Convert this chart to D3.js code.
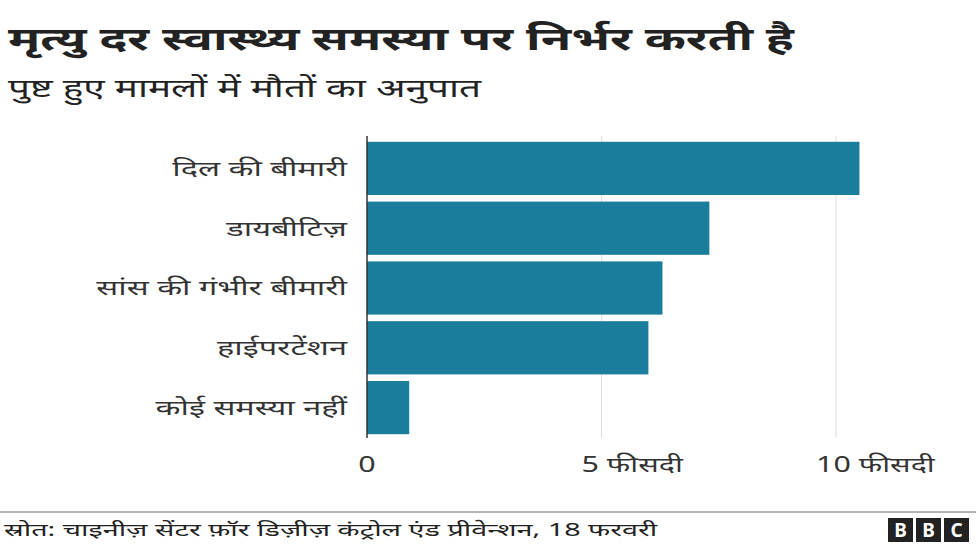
<!DOCTYPE html>
<html><head><meta charset="utf-8">
<script src="https://cdn.jsdelivr.net/npm/d3@7"></script>
<style>body{margin:0;background:#fff}text{font-family:"Noto Sans","DejaVu Sans",sans-serif}</style>
</head><body>
<svg id="c" width="976" height="549"></svg>
<script>
const categories = ['दिल की बीमारी', 'डायबीटिज़', 'सांस की गंभीर बीमारी', 'हाईपरटेंशन', 'कोई समस्या नहीं'];
const values = [10.5, 7.3, 6.3, 6.0, 0.9];
const ticks = [0, 5, 10];
const tickLabels = ['0', '5 फीसदी', '10 फीसदी'];

const svg = d3.select('#c');
const x = d3.scaleLinear().domain([0, 10]).range([367, 836]);
const y = d3.scaleBand().domain(categories).range([140, 436]).paddingInner(0.11).paddingOuter(0.03);

// the reference font is much wider than Noto Sans Devanagari, so stretch horizontally
function stretch(sel, k) {
  sel.each(function () {
    const ax = +this.getAttribute('x');
    this.setAttribute('transform', `translate(${ax},0) scale(${k},1) translate(${-ax},0)`);
  });
}

stretch(svg.append('text').attr('x', 8).attr('y', 50).attr('font-size', 32).attr('font-weight', 'bold')
  .attr('fill', '#222').text('मृत्यु दर स्वास्थ्य समस्या पर निर्भर करती है'), 1.55);
stretch(svg.append('text').attr('x', 8).attr('y', 97).attr('font-size', 25)
  .attr('fill', '#222').text('पुष्ट हुए मामलों में मौतों का अनुपात'), 1.55);

svg.selectAll('.grid').data(ticks.slice(1)).enter().append('line')
  .attr('x1', d => x(d)).attr('x2', d => x(d)).attr('y1', 136).attr('y2', 438)
  .attr('stroke', '#ddd').attr('stroke-width', 1);

svg.selectAll('.bar').data(values).enter().append('rect')
  .attr('x', x(0)).attr('y', (d, i) => y(categories[i]))
  .attr('width', d => x(d) - x(0)).attr('height', y.bandwidth())
  .attr('fill', '#1a7d9b');

svg.append('line').attr('x1', x(0)).attr('x2', x(0)).attr('y1', 136).attr('y2', 438)
  .attr('stroke', '#333').attr('stroke-width', 1.5);

stretch(svg.selectAll('.cat').data(categories).enter().append('text')
  .attr('x', 347).attr('y', d => y(d) + y.bandwidth() / 2).attr('dy', '0.35em')
  .attr('text-anchor', 'end').attr('font-size', 21).attr('fill', '#333').text(d => d), 1.55);

stretch(svg.selectAll('.tick').data(ticks).enter().append('text')
  .attr('x', (d, i) => i === 0 ? x(d) : x(d) - 20).attr('y', 472)
  .attr('text-anchor', (d, i) => i === 0 ? 'middle' : 'start')
  .attr('font-size', 21).attr('fill', '#333').text((d, i) => tickLabels[i]), 1.45);

svg.append('line').attr('x1', 0).attr('x2', 976).attr('y1', 512).attr('y2', 512)
  .attr('stroke', '#666').attr('stroke-width', 1);
stretch(svg.append('text').attr('x', 4).attr('y', 536).attr('font-size', 18).attr('fill', '#222')
  .text('स्रोत: चाइनीज़ सेंटर फ़ॉर डिज़ीज़ कंट्रोल एंड प्रीवेन्शन, 18 फरवरी'), 1.6);

const logo = svg.append('g');
['B', 'B', 'C'].forEach((l, i) => {
  logo.append('rect').attr('x', 888 + i * 28).attr('y', 518).attr('width', 25).attr('height', 24).attr('fill', '#222');
  logo.append('text').attr('x', 888 + i * 28 + 12.5).attr('y', 537).attr('text-anchor', 'middle')
    .attr('font-size', 19).attr('font-weight', 'bold').attr('fill', '#fff').text(l);
});
</script>
</body></html>
